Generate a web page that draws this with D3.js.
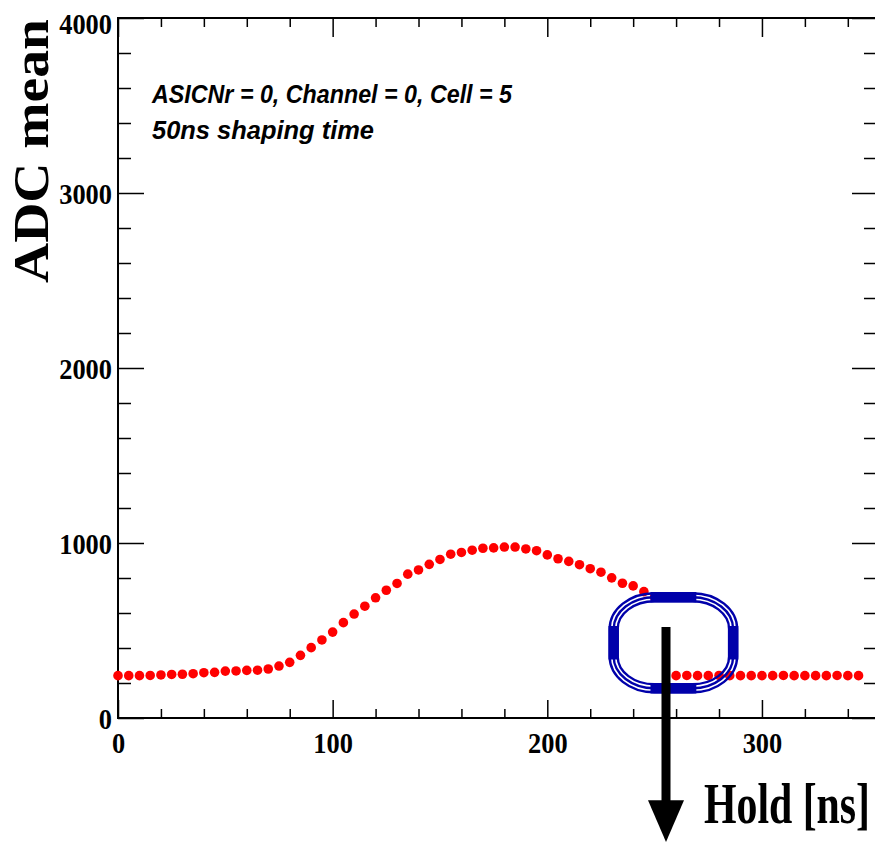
<!DOCTYPE html>
<html>
<head>
<meta charset="utf-8">
<script src="https://cdn.jsdelivr.net/npm/d3@7/dist/d3.min.js"></script>
<style>
  body { margin: 0; background: #fff; }
  svg { display: block; }
</style>
</head>
<body>
<script>
// hold scan, ns
var holdNs = [0, 5, 10, 15, 20, 25, 30, 35, 40, 45, 50, 55, 60, 65, 70, 75, 80, 85, 90, 95,
    100, 105, 110, 115, 120, 125, 130, 135, 140, 145, 150, 155, 160, 165, 170, 175, 180, 185, 190, 195,
    200, 205, 210, 215, 220, 225, 230, 235, 240, 245, 250, 255, 260, 265, 270, 275, 280, 285, 290, 295,
    300, 305, 310, 315, 320, 325, 330, 335, 340, 345];
var adcMean = [242, 242, 242, 243, 246, 249, 250, 253, 259, 261, 268, 269, 272, 273, 280, 297, 318, 358, 402, 446,
    491, 545, 594, 639, 687, 730, 769, 822, 846, 878, 906, 936, 946, 959, 970, 972, 977, 977, 966, 956,
    932, 910, 895, 876, 853, 833, 801, 770, 755, 722, 690, 690, 242, 243, 242, 242, 243, 242, 242, 242,
    242, 242, 243, 242, 242, 242, 242, 243, 242, 242];

var xMajor = [0, 100, 200, 300];
var xMinor = [20, 40, 60, 80, 120, 140, 160, 180, 220, 240, 260, 280, 320, 340];
var yMajor = [0, 1000, 2000, 3000, 4000];
var yMinor = [200, 400, 600, 800, 1200, 1400, 1600, 1800, 2200, 2400, 2600, 2800, 3200, 3400, 3600, 3800];

var infoLines = ["ASICNr = 0, Channel = 0, Cell = 5", "50ns shaping time"];

// hand drawn marker around the jump, in data units
var ringNs = [228.5, 289];
var ringAdc = [140, 720];
var arrowNs = 255.3;
var arrowAdc = [520, -470, -708]; // shaft top, head base, tip

var width = 875, height = 842;
var padL = 118, padT = 18, padR = 877, padB = 718;

var svg = d3.select('body').append('svg')
    .attr('width', width)
    .attr('height', height);

var x = d3.scaleLinear().domain([0, 353.6]).range([padL, padR]);
var y = d3.scaleLinear().domain([0, 4000]).range([padB, padT]);

var serif = "'Liberation Serif', 'Times New Roman', serif";
var sans = "'Liberation Sans', Arial, sans-serif";

function styleAxis(g) {
    g.select('.domain').remove();
    g.selectAll('line').attr('stroke', 'black').attr('stroke-width', 1.5);
    g.selectAll('text')
        .attr('fill', 'black')
        .attr('textLength', function (d) { return String(d).length * 13.2; })
        .attr('lengthAdjust', 'spacingAndGlyphs')
        .style('font-family', serif)
        .style('font-weight', 'bold')
        .style('font-size', '29px');
}

// ticks, all pointing inward
svg.append('g').attr('transform', 'translate(0,' + padB + ')')
    .call(d3.axisBottom(x).tickValues(xMajor).tickSize(-18).tickPadding(14).tickFormat(d3.format('d')))
    .call(styleAxis);
svg.append('g').attr('transform', 'translate(0,' + padB + ')')
    .call(d3.axisBottom(x).tickValues(xMinor).tickSize(-9).tickFormat(''))
    .call(styleAxis);
svg.append('g').attr('transform', 'translate(0,' + padT + ')')
    .call(d3.axisTop(x).tickValues(xMajor).tickSize(-19).tickFormat(''))
    .call(styleAxis);
svg.append('g').attr('transform', 'translate(0,' + padT + ')')
    .call(d3.axisTop(x).tickValues(xMinor).tickSize(-9).tickFormat(''))
    .call(styleAxis);

var yAx = svg.append('g').attr('transform', 'translate(' + padL + ',0)')
    .call(d3.axisLeft(y).tickValues(yMajor).tickSize(-26).tickPadding(6).tickFormat(d3.format('d')))
    .call(styleAxis);
yAx.selectAll('text').attr('dy', function (d) { return d == 4000 ? '0.55em' : '0.36em'; });
svg.append('g').attr('transform', 'translate(' + padL + ',0)')
    .call(d3.axisLeft(y).tickValues(yMinor).tickSize(-13).tickFormat(''))
    .call(styleAxis);
svg.append('g').attr('transform', 'translate(' + padR + ',0)')
    .call(d3.axisRight(y).tickValues(yMajor).tickSize(-25).tickFormat(''))
    .call(styleAxis);
svg.append('g').attr('transform', 'translate(' + padR + ',0)')
    .call(d3.axisRight(y).tickValues(yMinor).tickSize(-13).tickFormat(''))
    .call(styleAxis);

// frame
svg.append('rect')
    .attr('x', padL).attr('y', padT)
    .attr('width', padR - padL).attr('height', padB - padT)
    .attr('fill', 'none')
    .attr('stroke', 'black')
    .attr('stroke-width', 2);

// points
var pts = holdNs.map(function (t, i) { return { t: t, v: adcMean[i] }; });
svg.append('g').selectAll('circle')
    .data(pts)
    .enter()
    .append('circle')
    .attr('cx', function (d) { return x(d.t); })
    .attr('cy', function (d) { return y(d.v); })
    .attr('r', 4.8)
    .attr('fill', 'red');

// info text
svg.append('g').selectAll('text')
    .data(infoLines)
    .enter()
    .append('text')
    .attr('x', 152)
    .attr('y', function (d, i) { return 103 + i * 35.5; })
    .attr('textLength', function (d, i) { return i == 0 ? 360 : 222; })
    .attr('lengthAdjust', 'spacingAndGlyphs')
    .style('font-family', sans)
    .style('font-weight', 'bold')
    .style('font-style', 'italic')
    .style('font-size', '26px')
    .text(function (d) { return d; });

// axis titles
svg.append('text')
    .attr('transform', 'translate(48,283) rotate(-90)')
    .attr('textLength', 264)
    .attr('lengthAdjust', 'spacingAndGlyphs')
    .style('font-family', serif)
    .style('font-weight', 'bold')
    .style('font-size', '50px')
    .text('ADC mean');

svg.append('text')
    .attr('x', 704)
    .attr('y', 823)
    .attr('textLength', 166)
    .attr('lengthAdjust', 'spacingAndGlyphs')
    .style('font-family', serif)
    .style('font-weight', 'bold')
    .style('font-size', '58px')
    .text('Hold [ns]');

// ring: three nested rounded outlines, merged where they run straight
var rx0 = x(ringNs[0]), rx1 = x(ringNs[1]), ry0 = y(ringAdc[1]), ry1 = y(ringAdc[0]);
var cornerX = 46, cornerY = 37, blue = '#0000aa';
var ring = svg.append('g');
[1.2, 5.2, 9.2].forEach(function (d) {
    ring.append('rect')
        .attr('x', rx0 + d).attr('y', ry0 + d)
        .attr('width', rx1 - rx0 - 2 * d).attr('height', ry1 - ry0 - 2 * d)
        .attr('rx', cornerX - d).attr('ry', cornerY - d)
        .attr('fill', 'none')
        .attr('stroke', blue)
        .attr('stroke-width', 2.4);
});
var sx = rx1 - rx0 - 2 * cornerX + 8, sy = ry1 - ry0 - 2 * cornerY + 6;
ring.append('rect').attr('x', rx0 + cornerX - 4).attr('y', ry0).attr('width', sx).attr('height', 10.4).attr('fill', blue);
ring.append('rect').attr('x', rx0 + cornerX - 4).attr('y', ry1 - 10.4).attr('width', sx).attr('height', 10.4).attr('fill', blue);
ring.append('rect').attr('x', rx0).attr('y', ry0 + cornerY - 3).attr('width', 10.4).attr('height', sy).attr('fill', blue);
ring.append('rect').attr('x', rx1 - 10.4).attr('y', ry0 + cornerY - 3).attr('width', 10.4).attr('height', sy).attr('fill', blue);

// arrow
var ax = x(arrowNs);
svg.append('rect')
    .attr('x', ax - 4.5).attr('y', y(arrowAdc[0]))
    .attr('width', 9).attr('height', y(arrowAdc[1]) - y(arrowAdc[0]) + 1)
    .attr('fill', 'black');
svg.append('path')
    .attr('d', d3.line()([[ax - 18, y(arrowAdc[1])], [ax + 18, y(arrowAdc[1])], [ax, y(arrowAdc[2])]]) + 'Z')
    .attr('fill', 'black');
</script>
</body>
</html>
